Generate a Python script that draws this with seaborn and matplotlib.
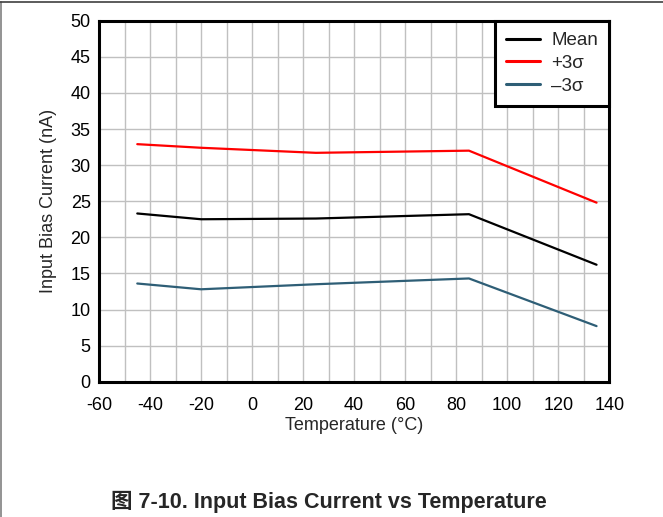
import matplotlib
matplotlib.use("Agg")
import matplotlib.pyplot as plt
import seaborn as sns
import pandas as pd
from matplotlib.lines import Line2D

# ---- data ----
temperature = [-45, -20, 25, 85, 135]
mean_vals = [23.3, 22.5, 22.6, 23.2, 16.2]
plus3s_vals = [32.9, 32.4, 31.7, 32.0, 24.8]
minus3s_vals = [13.6, 12.8, 13.5, 14.3, 7.7]
series_names = ["Mean", "+3\u03c3", "\u20133\u03c3"]
x_ticks = [-60, -40, -20, 0, 20, 40, 60, 80, 100, 120, 140]
y_ticks = [0, 5, 10, 15, 20, 25, 30, 35, 40, 45, 50]

df = pd.DataFrame({
    "Temperature": temperature * 3,
    "Current": mean_vals + plus3s_vals + minus3s_vals,
    "Series": [series_names[0]] * 5 + [series_names[1]] * 5 + [series_names[2]] * 5,
})

sns.set_style("white")
plt.rcParams["font.family"] = ["Liberation Sans", "DejaVu Sans"]
plt.rcParams["axes.unicode_minus"] = False

fig = plt.figure(figsize=(6.63, 5.17), dpi=100)
ax = fig.add_axes([99 / 663, 1 - 381.7 / 517, (609.3 - 99) / 663, (381.7 - 20.7) / 517])

palette = {series_names[0]: "#000000", series_names[1]: "#FF0000", series_names[2]: "#2E5E76"}
sns.lineplot(data=df, x="Temperature", y="Current", hue="Series", palette=palette,
             hue_order=series_names, linewidth=1.6, ax=ax, zorder=3)

ax.set_xlim(-60, 140)
ax.set_ylim(0, 50)
ax.set_xticks(x_ticks)
ax.set_xticks(list(range(-60, 141, 10)), minor=True)
ax.set_yticks(y_ticks)
ax.grid(True, which="both", color="#C0C0C0", linewidth=1.0, zorder=0)
ax.set_axisbelow(True)
ax.tick_params(axis="both", which="both", length=0, labelsize=13, colors="black")
ax.tick_params(axis="x", pad=11)
ax.tick_params(axis="y", pad=6)
for s in ax.spines.values():
    s.set_visible(True)
    s.set_color("black")
    s.set_linewidth(2.2)

ax.set_xlabel("Temperature (\u00b0C)", fontsize=13, labelpad=2)
ax.set_ylabel("Input Bias Current (nA)", fontsize=13, labelpad=10)

leg = ax.legend(loc="upper right", bbox_to_anchor=(1.0, 1.0), fontsize=13.5, frameon=True,
                fancybox=False, borderaxespad=0, handlelength=1.8, handletextpad=0.6,
                labelspacing=0.3, borderpad=0.6)
leg.get_frame().set_edgecolor("black")
leg.get_frame().set_linewidth(2.2)
leg.get_frame().set_alpha(1)
for h in leg.get_lines():
    h.set_linewidth(2.2)

fig.text(329 / 663, 1 - 501.5 / 517, "\u56fe 7-10. Input Bias Current vs Temperature",
         ha="center", va="center", fontsize=15.5, fontweight="bold",
         family=["Liberation Sans", "Noto Sans CJK SC", "DejaVu Sans"])

# outer frame lines (top and left)
fig.add_artist(Line2D([0.0015, 0.0015], [0, 0.996], transform=fig.transFigure, color="#808080", linewidth=1.2))
fig.add_artist(Line2D([0, 1], [0.996, 0.996], transform=fig.transFigure, color="#404040", linewidth=1.2))

fig.savefig("out.png", dpi=100)
